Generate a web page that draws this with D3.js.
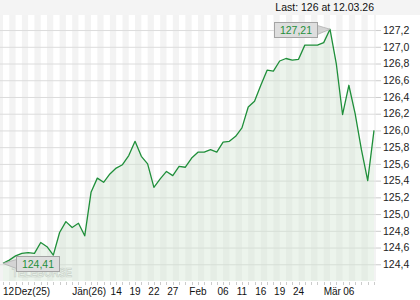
<!DOCTYPE html>
<html>
<head>
<meta charset="utf-8">
<script src="https://cdn.jsdelivr.net/npm/d3@7"></script>
<style>
  html, body { margin: 0; padding: 0; background: #fff; }
  svg { display: block; font-family: "Liberation Sans", Arial, sans-serif; }
</style>
</head>
<body>
<svg id="chart" width="420" height="300"></svg>
<script>
// trading days shown in the chart (Dec 12 2025 .. Mar 12 2026)
var dates = [
    "2025-12-12", "2025-12-15", "2025-12-16", "2025-12-17", "2025-12-18", "2025-12-19",
    "2025-12-22", "2025-12-23", "2025-12-29", "2025-12-30", "2025-12-31",
    "2026-01-02", "2026-01-05", "2026-01-07", "2026-01-08", "2026-01-09",
    "2026-01-12", "2026-01-13", "2026-01-14", "2026-01-15", "2026-01-16",
    "2026-01-19", "2026-01-20", "2026-01-21", "2026-01-22", "2026-01-23",
    "2026-01-26", "2026-01-27", "2026-01-28", "2026-01-29", "2026-01-30",
    "2026-02-02", "2026-02-03", "2026-02-04", "2026-02-05", "2026-02-06",
    "2026-02-09", "2026-02-10", "2026-02-11", "2026-02-12", "2026-02-13",
    "2026-02-16", "2026-02-17", "2026-02-18", "2026-02-19", "2026-02-20",
    "2026-02-23", "2026-02-24", "2026-02-25", "2026-02-26", "2026-02-27",
    "2026-03-02", "2026-03-03", "2026-03-04", "2026-03-05", "2026-03-06",
    "2026-03-09", "2026-03-10", "2026-03-11", "2026-03-12"
];
var values = [
    124.41, 124.45, 124.50, 124.53, 124.54, 124.53,
    124.66, 124.61, 124.51, 124.78, 124.91,
    124.84, 124.89, 124.74, 125.26, 125.43,
    125.38, 125.48, 125.55, 125.59, 125.70,
    125.87, 125.69, 125.60, 125.32, 125.42,
    125.51, 125.46, 125.57, 125.56, 125.67,
    125.74, 125.74, 125.77, 125.74, 125.86,
    125.87, 125.93, 126.03, 126.28, 126.35,
    126.54, 126.72, 126.71, 126.83, 126.86,
    126.84, 126.85, 127.02, 127.02, 127.02,
    127.05, 127.21, 126.80, 126.19, 126.54,
    126.20, 125.77, 125.40, 126.00
];
var yTicks = [124.4, 124.6, 124.8, 125.0, 125.2, 125.4, 125.6, 125.8, 126.0, 126.2, 126.4, 126.6, 126.8, 127.0, 127.2];
var tickDates = ["2025-12-12", "2025-12-15", "2026-01-02", "2026-01-14", "2026-01-19", "2026-01-22", "2026-01-27",
    "2026-02-02", "2026-02-06", "2026-02-11", "2026-02-16", "2026-02-19", "2026-02-24", "2026-03-02", "2026-03-06"];
var tickLabels = ["12", "Dez(25)", "Jän(26)", "14", "19", "22", "27", "Feb", "06", "11", "16", "19", "24", "Mär", "06"];
var lastLabel = "Last: 126 at 12.03.26";
var watermark = "TELEBÖRSE";

var plot = { left: 0, right: 376, top: 15, bottom: 281 };
var green = "#1f8f3a";

var de = d3.formatLocale({ decimal: ",", thousands: ".", grouping: [3], currency: ["", " €"] });
var fmt1 = de.format(".1f"), fmt2 = de.format(".2f");

var x = d3.scalePoint().domain(dates).range([3, 374]);
var y = d3.scaleLinear().domain([124.2, 127.38]).range([plot.bottom, plot.top]);

var svg = d3.select("#chart");

// header band + plot background + day stripes
svg.append("rect")
    .attr("x", 0).attr("y", 0)
    .attr("width", 420).attr("height", plot.top)
    .attr("fill", "#f4f4f4");
svg.append("rect")
    .attr("x", plot.left).attr("y", plot.top)
    .attr("width", plot.right - plot.left).attr("height", plot.bottom - plot.top)
    .attr("fill", "#f3f3f3");
svg.append("g").selectAll("rect")
    .data(dates.slice(0, -1).filter(function (d, i) { return i % 2 === 0; }))
    .enter().append("rect")
    .attr("x", function (d) { return x(d); })
    .attr("y", plot.top)
    .attr("width", x.step())
    .attr("height", plot.bottom - plot.top)
    .attr("fill", "#ffffff");

// horizontal grid + right axis
var yg = svg.append("g");
yg.selectAll("line.grid").data(yTicks).enter().append("line")
    .attr("class", "grid")
    .attr("x1", plot.left).attr("x2", plot.right)
    .attr("y1", function (d) { return y(d) + 0.5; }).attr("y2", function (d) { return y(d) + 0.5; })
    .attr("stroke", "#dcdcdc");
yg.selectAll("line.tick").data(yTicks).enter().append("line")
    .attr("class", "tick")
    .attr("x1", plot.right).attr("x2", plot.right + 5)
    .attr("y1", function (d) { return y(d) + 0.5; }).attr("y2", function (d) { return y(d) + 0.5; })
    .attr("stroke", "#cccccc");
yg.selectAll("text").data(yTicks).enter().append("text")
    .attr("x", plot.right + 7)
    .attr("y", function (d) { return y(d); })
    .attr("dy", "0.36em")
    .attr("font-size", 10.5)
    .attr("fill", "#222")
    .text(function (d) { return fmt1(d); });

// bottom axis ticks for every day
svg.append("g").selectAll("line").data(dates).enter().append("line")
    .attr("x1", function (d) { return Math.round(x(d)) + 0.5; })
    .attr("x2", function (d) { return Math.round(x(d)) + 0.5; })
    .attr("y1", plot.bottom + 1).attr("y2", plot.bottom + 4)
    .attr("stroke", "#cccccc");

// watermark
svg.append("text")
    .attr("x", 12).attr("y", 277)
    .attr("font-size", 12).attr("font-weight", "bold")
    .attr("textLength", 60).attr("lengthAdjust", "spacingAndGlyphs")
    .attr("fill", "#f8f8f8").attr("stroke", "#c4c4c4").attr("stroke-width", 0.7)
    .text(watermark);

// area + line
var area = d3.area()
    .x(function (d, i) { return x(dates[i]); })
    .y0(plot.bottom)
    .y1(function (d) { return y(d); });
var line = d3.line()
    .x(function (d, i) { return x(dates[i]); })
    .y(function (d) { return y(d); });
svg.append("path").datum(values)
    .attr("d", area)
    .attr("fill", "#cfe3cf").attr("fill-opacity", 0.4);
svg.append("path").datum(values)
    .attr("d", line)
    .attr("fill", "none")
    .attr("stroke", green).attr("stroke-width", 1.3)
    .attr("stroke-linejoin", "round");

// x labels
function tickAnchor(label, i) {
    return (i === 0 || label.indexOf("(") >= 0 || label === "Mär") ? "start" : "middle";
}
var xl = svg.append("g").attr("font-size", 10).attr("fill", "#111");
var prevEnd = -Infinity;
tickLabels.forEach(function (label, i) {
    var t = xl.append("text")
        .attr("x", x(tickDates[i]))
        .attr("y", 295)
        .attr("text-anchor", tickAnchor(label, i))
        .text(label);
    var b = t.node().getBBox();
    if (b.x < prevEnd) {
        t.attr("x", x(tickDates[i]) + (prevEnd - b.x));
        b = t.node().getBBox();
    }
    prevEnd = b.x + b.width;
});

// max / min callouts
function callout(idx, side) {
    var px = x(dates[idx]), py = y(values[idx]);
    var bw = 43, bh = 15, gap = 13;
    var bx = side === "left" ? px - gap - bw : px + gap;
    var by = Math.round(py - bh / 2) + 0.5;
    bx = Math.round(bx) + 0.5;
    var g = svg.append("g");
    var edge = side === "left" ? bx + bw : bx;
    g.append("path")
        .attr("d", "M" + edge + "," + (by + 3) + "L" + px + "," + py + "L" + edge + "," + (by + bh - 3) + "Z")
        .attr("fill", "#d4d4d4").attr("stroke", "#b0b0b0").attr("stroke-width", 0.8);
    g.append("rect")
        .attr("x", bx).attr("y", by).attr("width", bw).attr("height", bh)
        .attr("fill", "#dedede").attr("stroke", "#a4a4a4");
    g.append("text")
        .attr("x", bx + bw / 2).attr("y", by + bh / 2)
        .attr("dy", "0.36em")
        .attr("text-anchor", "middle")
        .attr("font-size", 10.5)
        .attr("fill", green)
        .text(fmt2(values[idx]));
}
callout(d3.maxIndex(values), "left");
callout(d3.minIndex(values), "right");

// last quote
svg.append("text")
    .attr("x", 374).attr("y", 11)
    .attr("text-anchor", "end")
    .attr("font-size", 10.5)
    .attr("fill", "#111")
    .text(lastLabel);
</script>
</body>
</html>
